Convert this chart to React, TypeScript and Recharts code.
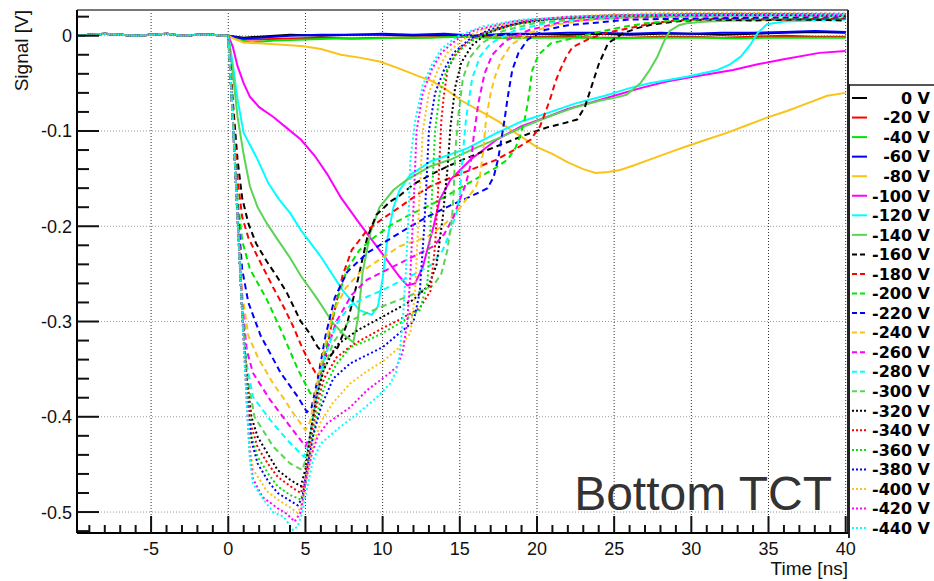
import React from 'react';
import { LineChart, Line, XAxis, YAxis, ReferenceLine } from 'recharts';

type P = [number, number];

// common pre-trigger baseline (t < 0)
const baseline: P[] = [[-9.8,0.000],[-9,0.001],[-8,0.002],[-7,0.001],[-6,0.000],[-5,0.001],[-4,0.002],[-3,0.000],[-2,0.001],[-1,0.001],[-0.3,0.000]];

const v0: P[] = [[0,0.000],[1,-0.002],[2,-0.001],[4,0.001],[6,0.000],[8,0.001],[10,0.001],[12,0.000],[14,0.001],[16,0.000],[18,0.001],[20,0.002],[22,0.001],[24,0.002],[26,0.001],[28,0.002],[30,0.002],[32,0.001],[34,0.002],[36,0.003],[38,0.004],[40,0.003]];
const v20: P[] = [[0,0.000],[1,-0.004],[2,-0.004],[4,-0.003],[6,-0.002],[8,-0.003],[10,-0.002],[12,-0.002],[14,-0.001],[16,-0.001],[18,-0.002],[20,-0.001],[22,-0.001],[24,-0.002],[26,-0.002],[28,-0.001],[30,-0.001],[32,-0.002],[34,-0.001],[36,0.000],[38,-0.001],[40,-0.001]];
const v40: P[] = [[0,0.000],[0.8,-0.005],[1.5,-0.007],[3,-0.005],[5,-0.004],[7,-0.003],[9,-0.003],[11,-0.002],[13,-0.002],[15,-0.001],[17,-0.002],[19,-0.002],[21,-0.002],[23,-0.002],[25,-0.003],[27,-0.002],[29,-0.002],[31,-0.002],[33,-0.003],[35,-0.002],[37,-0.002],[40,-0.002]];
const v60: P[] = [[0,0.000],[1,-0.003],[2,-0.002],[4,0.000],[6,0.001],[8,0.001],[10,0.002],[12,0.001],[14,0.002],[16,0.000],[18,0.002],[20,0.002],[22,0.003],[24,0.003],[26,0.002],[28,0.003],[30,0.002],[32,0.003],[34,0.003],[36,0.004],[38,0.005],[40,0.004]];
const v80: P[] = [[0,0.000],[0.5,-0.004],[1,-0.007],[2,-0.008],[3,-0.009],[4,-0.010],[4.9,-0.011],[6,-0.014],[7.3,-0.020],[8.5,-0.023],[9.8,-0.027],[11,-0.034],[12.4,-0.043],[13.1,-0.047],[14,-0.055],[15.1,-0.068],[16.3,-0.079],[17.5,-0.090],[18.8,-0.104],[20,-0.117],[21,-0.124],[22,-0.133],[23,-0.140],[23.8,-0.144],[24.6,-0.143],[25.4,-0.141],[26.3,-0.136],[27.3,-0.130],[28.5,-0.123],[29.7,-0.116],[31,-0.109],[32.3,-0.102],[33.6,-0.094],[34.9,-0.086],[36.2,-0.079],[37.5,-0.071],[38.8,-0.063],[40,-0.060]];
const v100: P[] = [[0,0.000],[0.3,-0.012],[0.6,-0.032],[1,-0.050],[1.4,-0.064],[2,-0.075],[2.9,-0.085],[3.8,-0.097],[4.7,-0.109],[5.6,-0.126],[6.4,-0.145],[7.3,-0.170],[8.5,-0.197],[9.8,-0.225],[11.1,-0.253],[11.6,-0.262],[12.1,-0.260],[12.6,-0.243],[13.3,-0.200],[13.7,-0.172],[14.4,-0.151],[15.7,-0.130],[17.4,-0.109],[19,-0.095],[20.7,-0.085],[22,-0.077],[23.3,-0.071],[25,-0.063],[26.7,-0.055],[28.4,-0.048],[30.5,-0.042],[32.7,-0.036],[34.3,-0.030],[35.9,-0.025],[38.3,-0.018],[40,-0.016]];
const v120: P[] = [[0,0.000],[0.3,-0.030],[0.6,-0.067],[1,-0.102],[1.9,-0.130],[2.6,-0.155],[3.3,-0.172],[4,-0.186],[4.7,-0.204],[6,-0.232],[7.4,-0.267],[8.5,-0.288],[9.3,-0.293],[9.7,-0.284],[10,-0.255],[10.3,-0.214],[10.7,-0.180],[11.1,-0.162],[11.8,-0.146],[13.1,-0.132],[15.5,-0.118],[17.4,-0.102],[19,-0.090],[20.7,-0.081],[22.5,-0.071],[24.4,-0.063],[26,-0.055],[27.3,-0.050],[29.7,-0.043],[31.7,-0.036],[32.5,-0.030],[33.2,-0.022],[33.8,-0.010],[34.3,0.003],[34.9,0.012],[36,0.015],[38,0.016],[40,0.017]];
const v140: P[] = [[0,0.000],[0.3,-0.040],[0.6,-0.085],[1,-0.125],[1.4,-0.158],[1.9,-0.180],[2.5,-0.197],[3.2,-0.214],[4,-0.233],[4.7,-0.252],[5.8,-0.277],[6.8,-0.302],[7.5,-0.314],[8.1,-0.322],[8.4,-0.297],[8.7,-0.249],[9.2,-0.207],[9.8,-0.180],[10.7,-0.162],[11.5,-0.152],[13.1,-0.137],[14.4,-0.130],[16,-0.118],[17.6,-0.107],[19.2,-0.095],[20.9,-0.084],[22.5,-0.075],[24.1,-0.068],[25.1,-0.065],[25.8,-0.062],[26.7,-0.050],[27.3,-0.036],[27.8,-0.022],[28.2,-0.007],[28.6,0.005],[29.2,0.011],[29.7,0.013],[31,0.015],[33,0.016],[36,0.017],[40,0.018]];
const v160: P[] = [[0,0.000],[0.3,-0.070],[0.6,-0.130],[0.9,-0.170],[1.3,-0.197],[1.8,-0.218],[2.5,-0.237],[3.2,-0.254],[3.8,-0.270],[4.7,-0.300],[5.3,-0.313],[5.8,-0.327],[6.5,-0.338],[7.1,-0.327],[7.7,-0.302],[8.4,-0.256],[9,-0.212],[9.6,-0.188],[10.5,-0.174],[11.1,-0.168],[12,-0.156],[13.1,-0.146],[14.1,-0.138],[15.2,-0.130],[16.3,-0.123],[17.4,-0.116],[18.5,-0.109],[19.6,-0.102],[20.7,-0.096],[21.7,-0.092],[22.6,-0.088],[23.1,-0.075],[23.5,-0.055],[24,-0.030],[24.6,-0.008],[25.5,0.002],[26.5,0.008],[27.5,0.012],[29,0.015],[31,0.017],[34,0.016],[37,0.017],[40,0.016]];
const v180: P[] = [[0,0.000],[0.3,-0.080],[0.6,-0.150],[0.9,-0.190],[1.3,-0.212],[1.9,-0.232],[2.9,-0.264],[3.6,-0.285],[4.2,-0.305],[4.8,-0.328],[5.3,-0.344],[5.8,-0.358],[6.2,-0.345],[6.7,-0.302],[7.4,-0.252],[8,-0.225],[9,-0.204],[10,-0.192],[11.1,-0.180],[12.4,-0.165],[13.1,-0.158],[14.1,-0.151],[15.2,-0.144],[16.3,-0.137],[17.4,-0.130],[18.5,-0.120],[19.6,-0.109],[20.2,-0.095],[20.6,-0.078],[20.9,-0.064],[21.2,-0.048],[21.5,-0.036],[21.9,-0.022],[22.3,-0.012],[23.4,-0.003],[24.5,0.003],[26,0.008],[27.5,0.013],[29,0.016],[32,0.018],[36,0.017],[40,0.018]];
const v200: P[] = [[0,0.000],[0.3,-0.085],[0.6,-0.170],[0.9,-0.215],[1.4,-0.245],[2.5,-0.277],[3.5,-0.312],[4.5,-0.350],[5.3,-0.375],[5.6,-0.378],[5.9,-0.362],[6.4,-0.322],[7,-0.280],[7.7,-0.245],[8.5,-0.225],[9.5,-0.211],[10.7,-0.197],[12,-0.186],[13.3,-0.176],[14.8,-0.162],[16.3,-0.148],[17.3,-0.139],[18.1,-0.130],[18.6,-0.118],[18.9,-0.106],[19.2,-0.088],[19.4,-0.071],[19.7,-0.036],[20.1,-0.020],[20.9,-0.008],[22.5,-0.002],[24,0.004],[25.5,0.009],[27,0.013],[29,0.016],[32,0.018],[36,0.018],[40,0.019]];
const v220: P[] = [[0,0.000],[0.3,-0.090],[0.6,-0.180],[0.9,-0.245],[1.3,-0.280],[2.1,-0.315],[2.8,-0.336],[3.4,-0.354],[4.5,-0.379],[5.1,-0.395],[5.4,-0.390],[5.8,-0.360],[6.3,-0.315],[6.9,-0.275],[7.7,-0.248],[9,-0.228],[10,-0.218],[11.1,-0.207],[12.9,-0.190],[14.4,-0.178],[15.8,-0.168],[16.8,-0.160],[17.2,-0.148],[17.5,-0.128],[17.7,-0.108],[17.9,-0.088],[18.1,-0.065],[18.4,-0.036],[18.8,-0.018],[19.4,-0.004],[20.5,0.006],[22,0.011],[24,0.014],[26,0.017],[30,0.018],[35,0.019],[40,0.019]];
const v240: P[] = [[0,0.000],[0.3,-0.090],[0.6,-0.190],[0.9,-0.270],[1.3,-0.315],[1.9,-0.337],[2.9,-0.365],[3.6,-0.381],[4.2,-0.396],[5,-0.414],[5.3,-0.405],[5.7,-0.370],[6.2,-0.330],[6.8,-0.290],[7.6,-0.265],[8.5,-0.249],[10,-0.233],[11.1,-0.221],[12.9,-0.211],[14,-0.198],[14.8,-0.185],[15.4,-0.172],[16,-0.160],[16.3,-0.148],[16.5,-0.123],[16.7,-0.088],[17,-0.060],[17.3,-0.042],[17.7,-0.025],[18.3,-0.010],[19.5,0.003],[21,0.011],[23,0.016],[26,0.019],[30,0.020],[35,0.021],[40,0.020]];
const v260: P[] = [[0,0.000],[0.3,-0.090],[0.6,-0.190],[0.9,-0.280],[1.2,-0.330],[1.6,-0.354],[2.7,-0.382],[4,-0.410],[5,-0.431],[5.3,-0.420],[5.7,-0.380],[6.3,-0.335],[7,-0.300],[8,-0.272],[9,-0.256],[10,-0.248],[11.1,-0.239],[12.2,-0.230],[13.3,-0.221],[14,-0.208],[14.6,-0.190],[15,-0.172],[15.4,-0.155],[15.7,-0.135],[15.9,-0.106],[16.2,-0.071],[16.6,-0.040],[17.1,-0.020],[18,-0.005],[19.5,0.006],[21.5,0.014],[24,0.018],[28,0.020],[32,0.021],[36,0.021],[40,0.020]];
const v280: P[] = [[0,0.000],[0.3,-0.090],[0.6,-0.190],[0.9,-0.290],[1.2,-0.345],[1.6,-0.379],[2.7,-0.403],[3.8,-0.424],[4.9,-0.442],[5.2,-0.430],[5.6,-0.390],[6.2,-0.340],[7,-0.303],[7.9,-0.283],[9,-0.274],[10,-0.267],[11.1,-0.258],[12.2,-0.249],[13.2,-0.240],[13.9,-0.225],[14.4,-0.205],[14.8,-0.185],[15,-0.165],[15.2,-0.123],[15.4,-0.088],[15.8,-0.045],[16.3,-0.022],[17,-0.008],[18.5,0.005],[20.5,0.013],[23,0.018],[27,0.020],[31,0.021],[35,0.021],[40,0.021]];
const v300: P[] = [[0,0.000],[0.3,-0.090],[0.6,-0.190],[0.9,-0.290],[1.2,-0.355],[1.7,-0.400],[2.9,-0.431],[4,-0.449],[4.8,-0.456],[5.1,-0.440],[5.5,-0.400],[6,-0.360],[6.8,-0.322],[7.8,-0.300],[9,-0.291],[10,-0.284],[11.1,-0.277],[12.2,-0.270],[13.3,-0.262],[13.8,-0.250],[14.2,-0.225],[14.5,-0.190],[14.6,-0.165],[14.7,-0.123],[14.9,-0.085],[15.2,-0.045],[15.7,-0.022],[16.4,-0.008],[17.8,0.005],[19.8,0.013],[22.5,0.018],[26,0.020],[30,0.021],[35,0.022],[40,0.022]];
const v320: P[] = [[0,0.000],[0.3,-0.090],[0.6,-0.190],[0.9,-0.290],[1.2,-0.360],[1.5,-0.400],[1.9,-0.421],[2.6,-0.440],[3.2,-0.456],[4,-0.466],[4.7,-0.473],[5,-0.455],[5.3,-0.420],[5.7,-0.380],[6.2,-0.350],[7,-0.325],[8.4,-0.309],[10,-0.295],[12,-0.277],[13,-0.262],[13.5,-0.240],[13.9,-0.190],[14.2,-0.140],[14.4,-0.095],[14.7,-0.054],[15.1,-0.028],[15.8,-0.010],[16.8,0.003],[18.5,0.012],[21,0.018],[25,0.021],[30,0.022],[35,0.022],[40,0.021]];
const v340: P[] = [[0,0.000],[0.3,-0.090],[0.6,-0.190],[0.9,-0.290],[1.2,-0.365],[1.5,-0.410],[1.9,-0.432],[2.6,-0.450],[3.2,-0.463],[4.2,-0.475],[4.7,-0.480],[5,-0.465],[5.3,-0.430],[5.7,-0.390],[6.2,-0.360],[7,-0.338],[8,-0.325],[9,-0.316],[10,-0.307],[11.1,-0.298],[12.4,-0.286],[13.1,-0.268],[13.4,-0.220],[13.6,-0.160],[13.8,-0.090],[13.95,-0.065],[14.2,-0.036],[14.7,-0.020],[15.4,-0.008],[16.4,0.002],[18,0.010],[20,0.017],[25,0.021],[30,0.022],[35,0.023],[40,0.022]];
const v360: P[] = [[0,0.000],[0.3,-0.090],[0.6,-0.190],[0.9,-0.290],[1.2,-0.370],[1.5,-0.420],[1.9,-0.442],[2.6,-0.460],[3.2,-0.473],[4,-0.482],[4.7,-0.487],[5,-0.470],[5.3,-0.440],[5.7,-0.400],[6.2,-0.370],[7,-0.345],[7.9,-0.327],[9,-0.320],[10,-0.312],[11.1,-0.302],[12.4,-0.288],[12.9,-0.260],[13.1,-0.200],[13.4,-0.100],[13.7,-0.060],[14.2,-0.034],[14.9,-0.016],[16,-0.003],[17.5,0.007],[20,0.016],[24,0.021],[30,0.022],[35,0.022],[40,0.022]];
const v380: P[] = [[0,0.000],[0.3,-0.090],[0.6,-0.190],[0.9,-0.290],[1.2,-0.375],[1.5,-0.425],[1.9,-0.449],[2.6,-0.468],[3.2,-0.480],[4,-0.488],[4.5,-0.493],[4.8,-0.485],[5.1,-0.455],[5.5,-0.420],[6,-0.390],[6.8,-0.360],[7.9,-0.344],[9,-0.335],[10,-0.327],[11.1,-0.312],[12,-0.300],[12.4,-0.270],[12.7,-0.200],[13,-0.100],[13.4,-0.060],[14,-0.035],[14.6,-0.018],[15.6,-0.004],[17,0.007],[19.5,0.016],[24,0.021],[30,0.023],[35,0.023],[40,0.023]];
const v400: P[] = [[0,0.000],[0.3,-0.090],[0.6,-0.190],[0.9,-0.290],[1.2,-0.380],[1.4,-0.430],[1.6,-0.455],[2.5,-0.478],[3.2,-0.487],[4,-0.495],[4.5,-0.501],[4.8,-0.490],[5.1,-0.460],[5.5,-0.430],[6,-0.405],[6.8,-0.385],[7.9,-0.365],[9,-0.352],[10,-0.342],[11.1,-0.327],[11.8,-0.312],[12.1,-0.270],[12.3,-0.200],[12.6,-0.100],[13,-0.060],[13.6,-0.035],[14.2,-0.018],[15.2,-0.004],[16.5,0.007],[19,0.016],[23,0.021],[28,0.024],[33,0.024],[40,0.023]];
const v420: P[] = [[0,0.000],[0.3,-0.090],[0.6,-0.190],[0.9,-0.290],[1.2,-0.385],[1.4,-0.440],[1.6,-0.465],[2.2,-0.484],[3.2,-0.496],[3.8,-0.502],[4.3,-0.510],[4.7,-0.500],[5,-0.470],[5.4,-0.440],[5.8,-0.420],[6.4,-0.407],[7.9,-0.390],[9,-0.372],[10.3,-0.356],[10.9,-0.348],[11.3,-0.332],[11.6,-0.300],[11.8,-0.250],[12,-0.180],[12.2,-0.100],[12.6,-0.060],[13.2,-0.035],[13.8,-0.018],[14.8,-0.004],[16,0.006],[18.5,0.015],[22,0.020],[27,0.022],[33,0.023],[40,0.022]];
const v440: P[] = [[0,0.000],[0.3,-0.090],[0.6,-0.190],[0.9,-0.290],[1.2,-0.390],[1.4,-0.445],[1.6,-0.470],[2.2,-0.485],[2.9,-0.500],[3.6,-0.505],[4.2,-0.519],[4.5,-0.515],[4.8,-0.500],[5.1,-0.475],[5.5,-0.445],[6,-0.428],[7.3,-0.410],[8.5,-0.395],[9.6,-0.380],[10.5,-0.365],[10.9,-0.352],[11.1,-0.335],[11.3,-0.300],[11.5,-0.250],[11.7,-0.180],[11.8,-0.130],[12.1,-0.090],[12.6,-0.052],[13.2,-0.030],[13.8,-0.014],[14.8,-0.001],[16.5,0.010],[19,0.017],[23,0.020],[28,0.022],[33,0.022],[40,0.022]];

const seriesNames = ['0 V','-20 V','-40 V','-60 V','-80 V','-100 V','-120 V','-140 V','-160 V','-180 V','-200 V','-220 V','-240 V','-260 V','-280 V','-300 V','-320 V','-340 V','-360 V','-380 V','-400 V','-420 V','-440 V'];
const seriesValues: P[][] = [v0,v20,v40,v60,v80,v100,v120,v140,v160,v180,v200,v220,v240,v260,v280,v300,v320,v340,v360,v380,v400,v420,v440];
const seriesColors = ['#000000','#ff0000','#00e600','#0000ff','#f9c31a','#ff00ff','#00ffff','#59d454',
  '#000000','#ff0000','#00e600','#0000ff','#f9c31a','#ff00ff','#00ffff','#59d454',
  '#000000','#ff0000','#00e600','#0000ff','#f9c31a','#ff00ff','#00ffff'];
const SOLID = '';
const DASHED = '6 4';
const DOTTED = '2 2.5';
const seriesDash = [SOLID,SOLID,SOLID,SOLID,SOLID,SOLID,SOLID,SOLID,
  DASHED,DASHED,DASHED,DASHED,DASHED,DASHED,DASHED,DASHED,
  DOTTED,DOTTED,DOTTED,DOTTED,DOTTED,DOTTED,DOTTED];

const xTicks = [-9,-8,-7,-6,-5,-4,-3,-2,-1,0,1,2,3,4,5,6,7,8,9,10,11,12,13,14,15,16,17,18,19,20,21,22,23,24,25,26,27,28,29,30,31,32,33,34,35,36,37,38,39,40];
const xMajor = [-5,0,5,10,15,20,25,30,35,40];
const yTicks = [0.02,0,-0.02,-0.04,-0.06,-0.08,-0.1,-0.12,-0.14,-0.16,-0.18,-0.2,-0.22,-0.24,-0.26,-0.28,-0.3,-0.32,-0.34,-0.36,-0.38,-0.4,-0.42,-0.44,-0.46,-0.48,-0.5,-0.52];
const yMajor = [0,-0.1,-0.2,-0.3,-0.4,-0.5];
const X_DOMAIN: [number, number] = [-9.8, 40.15];
const Y_DOMAIN: [number, number] = [-0.522, 0.027];

const FONT = '"Liberation Sans", Arial, Helvetica, sans-serif';
const LEG_FONT = '"DejaVu Sans", "Liberation Sans", Arial, sans-serif';

const toPts = (a: P[]) => [...baseline, ...a].map(([t, v]) => ({ t, v }));

const XTick = (props: any) => {
  const { x, y, payload } = props;
  const v = payload.value as number;
  const major = xMajor.includes(v);
  return (
    <g>
      <line x1={x} x2={x} y1={y} y2={y - (major ? 17 : 8)} stroke="#111" strokeWidth={2} />
      {major && (
        <text x={x} y={y + 22} textAnchor="middle" fontSize={18} fill="#111" fontFamily={FONT}>{v}</text>
      )}
    </g>
  );
};

const YTick = (props: any) => {
  const { x, y, payload } = props;
  const v = payload.value as number;
  const major = yMajor.some((m) => Math.abs(m - v) < 1e-9);
  return (
    <g>
      <line x1={x} x2={x + (major ? 22 : 12)} y1={y} y2={y} stroke="#111" strokeWidth={2} />
      {major && (
        <text x={x - 5} y={y} dy="0.36em" textAnchor="end" fontSize={18} fill="#111" fontFamily={FONT}>
          {v === 0 ? '0' : v.toFixed(1)}
        </text>
      )}
    </g>
  );
};

export default function App() {
  return (
    <div style={{ position: 'relative', width: 934, height: 581, background: '#fff', overflow: 'hidden' }}>
      <style>{'body{margin:0;}'}</style>
      <LineChart width={934} height={581} margin={{ top: 10, right: 86, bottom: 0, left: 0 }}>
        <XAxis dataKey="t" type="number" domain={X_DOMAIN} ticks={xTicks} interval={0} allowDataOverflow
          height={48} tickSize={0} tickMargin={0} tickLine={false} tick={<XTick />}
          axisLine={{ stroke: '#000', strokeWidth: 2 }} />
        <YAxis dataKey="v" type="number" domain={Y_DOMAIN} ticks={yTicks} interval={0} allowDataOverflow
          width={77} tickSize={0} tickMargin={0} tickLine={false} tick={<YTick />}
          axisLine={{ stroke: '#000', strokeWidth: 2 }} />
        {xMajor.map((xv) => (
          <ReferenceLine key={'gx' + xv} x={xv} stroke="#333" strokeWidth={1} strokeDasharray="1 2" />
        ))}
        {yMajor.map((yv) => (
          <ReferenceLine key={'gy' + yv} y={yv} stroke="#999" strokeWidth={1} strokeDasharray="1 2" />
        ))}
        <ReferenceLine y={Y_DOMAIN[1]} stroke="#777" strokeWidth={2} />
        <ReferenceLine x={X_DOMAIN[1]} stroke="#222" strokeWidth={2} />
        {seriesValues.map((vals, i) => (
          <Line key={seriesNames[i]} name={seriesNames[i]} data={toPts(vals)} dataKey="v" type="linear"
            stroke={seriesColors[i]} strokeWidth={2} strokeDasharray={seriesDash[i] || undefined}
            dot={false} activeDot={false} isAnimationActive={false} />
        ))}
      </LineChart>

      {/* legend */}
      <svg style={{ position: 'absolute', left: 848, top: 84 }} width={86} height={454}>
        <rect x={0} y={0} width={86} height={454} fill="#fff" />
        <line x1={0} x2={86} y1={1} y2={1} stroke="#555" strokeWidth={2} />
        <line x1={1} x2={1} y1={0} y2={454} stroke="#222" strokeWidth={2} />
        {seriesNames.map((lab, i) => {
          const cy = 14 + i * 19.55;
          return (
            <g key={lab}>
              <line x1={4} x2={19} y1={cy} y2={cy} stroke={seriesColors[i]} strokeWidth={2}
                strokeDasharray={seriesDash[i] ? (seriesDash[i] === DASHED ? '5 3' : '2 2') : undefined} />
              <text x={82} y={cy} dy="0.36em" textAnchor="end" fontSize={16} fontWeight="bold" fill="#000"
                fontFamily={LEG_FONT}>{lab}</text>
            </g>
          );
        })}
      </svg>

      {/* axis titles and annotation */}
      <svg style={{ position: 'absolute', left: 0, top: 0, pointerEvents: 'none' }} width={934} height={581}>
        <text transform="translate(28,10) rotate(-90)" textAnchor="end" fontSize={19} fill="#111" fontFamily={FONT}>Signal [V]</text>
        <text x={848} y={575} textAnchor="end" fontSize={19} fill="#111" fontFamily={FONT}>Time [ns]</text>
        <text x={832} y={510} textAnchor="end" fontSize={48} fill="#333" fontFamily={FONT}>Bottom TCT</text>
      </svg>
    </div>
  );
}
